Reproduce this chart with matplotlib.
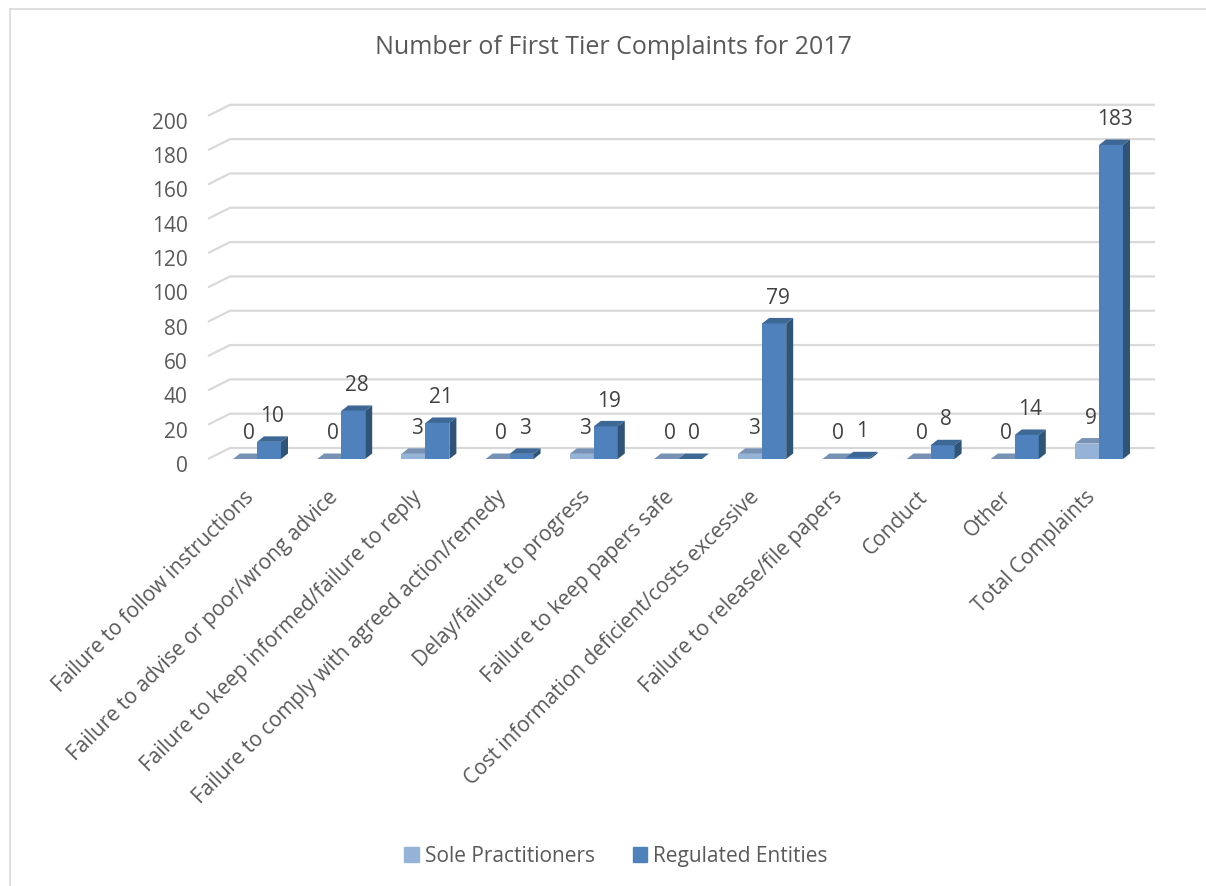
import matplotlib.pyplot as plt
from matplotlib.patches import Polygon, Patch
from matplotlib.lines import Line2D
from matplotlib.transforms import ScaledTranslation

categories = [
    "Failure to follow instructions",
    "Failure to advise or poor/wrong advice",
    "Failure to keep informed/failure to reply",
    "Failure to comply with agreed action/remedy",
    "Delay/failure to progress",
    "Failure to keep papers safe",
    "Cost information deficient/costs excessive",
    "Failure to release/file papers",
    "Conduct",
    "Other",
    "Total Complaints",
]
sole = [0, 0, 3, 0, 3, 0, 3, 0, 0, 0, 9]
regulated = [10, 28, 21, 3, 19, 0, 79, 1, 8, 14, 183]
y_ticks = list(range(0, 201, 20))

plt.rcParams['font.family'] = ['Open Sans', 'DejaVu Sans']

W, H = 1206, 887
fig = plt.figure(figsize=(W / 100, H / 100), dpi=100)

# plot box in pixels, and the pixel scale of the front plane
left, right, top, bottom = 200, 1170, 100, 470
x0_px, y0_px = 257, 460
px_x, px_y = 84.2, 1.716

ax = fig.add_axes([left / W, 1 - bottom / H, (right - left) / W, (bottom - top) / H])
ax.set_xlim((left - x0_px) / px_x, (right - x0_px) / px_x)
ax.set_ylim((y0_px - bottom) / px_y, (y0_px - top) / px_y)
for s in ax.spines.values():
    s.set_visible(False)
ax.patch.set_alpha(0)

# back wall gridlines
wall_dx, wall_dy = 22 / px_x, 11 / px_y
wall_x0 = (208 - x0_px) / px_x
wall_x1 = (1155 - x0_px) / px_x
for v in y_ticks:
    ax.plot([wall_x0, wall_x0 + wall_dx, wall_x1], [v, v + wall_dy, v + wall_dy],
            color="#d9d9d9", lw=1.6, zorder=1, solid_capstyle="butt")

# bars with a bit of fake depth
bw = 0.285
dx, dy = 7 / px_x, 5.5 / px_y
series = [
    (sole, -bw, "#95b3d7", "#7892b6", "#6a87ad"),
    (regulated, 0.0, "#4f81bd", "#3d6896", "#2f5477"),
]
xs = list(range(len(categories)))
for i in xs:
    for vals, off, front, topc, side in series:
        v = vals[i]
        xl = i + off
        z = 3 + (off == 0)
        ax.bar(xl, v, width=bw, align="edge", color=front, zorder=z, linewidth=0)
        ax.add_patch(Polygon([(xl, v), (xl + bw, v), (xl + bw + dx, v + dy), (xl + dx, v + dy)],
                             closed=True, facecolor=topc, edgecolor="none", zorder=z))
        ax.add_patch(Polygon([(xl + bw, 0), (xl + bw + dx, dy), (xl + bw + dx, v + dy), (xl + bw, v)],
                             closed=True, facecolor=side, edgecolor="none", zorder=z))
        ax.annotate(str(v), (xl + bw / 2 + dx / 2, v + dy), xytext=(0, 15),
                    textcoords="offset points", ha="center", va="center",
                    fontsize=15, color="#404040", zorder=6)

ax.set_yticks(y_ticks)
ax.set_yticklabels([str(t) for t in y_ticks], fontsize=15, color="#595959")
ax.set_xticks(xs)
ax.set_xticklabels(categories, rotation=45, ha="right", rotation_mode="anchor",
                   fontsize=15, color="#595959")
ax.tick_params(axis="y", length=0, pad=9)
ax.tick_params(axis="x", length=0, pad=12)

# nudge tick labels to where the reference puts them
shift_x = ScaledTranslation(-14 / 100, 0, fig.dpi_scale_trans)
shift_y = ScaledTranslation(0, -4 / 100, fig.dpi_scale_trans)
for lab in ax.get_xticklabels():
    lab.set_transform(lab.get_transform() + shift_x)
for lab in ax.get_yticklabels():
    lab.set_transform(lab.get_transform() + shift_y)

fig.text(613 / W, 1 - 48 / H, "Number of First Tier Complaints for 2017",
         ha="center", va="center", fontsize=18, color="#595959")

handles = [Patch(color="#95b3d7", label="Sole Practitioners"),
           Patch(color="#4f81bd", label="Regulated Entities")]
fig.legend(handles=handles, loc="center", bbox_to_anchor=(616 / W, 1 - 857 / H), ncol=2,
           frameon=False, fontsize=15, labelcolor="#595959", handlelength=0.7,
           handleheight=0.7, handletextpad=0.3, columnspacing=1.8)

# chart area border (left and top edges visible)
fig.add_artist(Line2D([9.5 / W, 9.5 / W], [0, 1 - 10 / H], color="#d9d9d9", lw=1.2))
fig.add_artist(Line2D([9.5 / W, 1], [1 - 10 / H, 1 - 10 / H], color="#d9d9d9", lw=1.2))

fig.savefig("out.png", dpi=100, facecolor="white")
